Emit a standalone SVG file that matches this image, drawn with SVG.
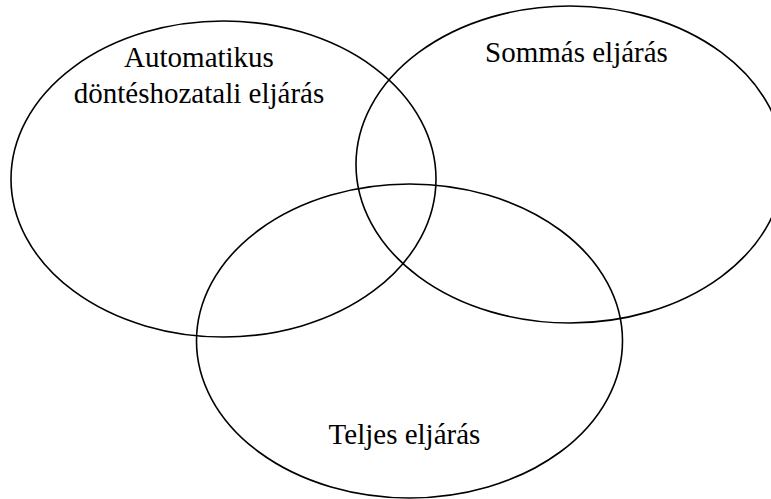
<svg xmlns="http://www.w3.org/2000/svg" width="771" height="499" viewBox="0 0 771 499">
<style>
.c{fill:none;stroke:#000;stroke-width:1.6}
.t{font-family:"Liberation Serif","Times New Roman",serif;font-size:29px;fill:#000;text-anchor:middle}
</style>
<rect width="771" height="499" fill="#fff"/>
<g id="node-automatikus">
<ellipse class="c" cx="223.5" cy="179" rx="212.5" ry="158"/>
<text class="t" x="199" y="67">Automatikus</text>
<text class="t" x="199" y="103">döntéshozatali eljárás</text>
</g>
<g id="node-sommas">
<ellipse class="c" cx="570" cy="164.5" rx="214" ry="158.5"/>
<text class="t" x="576.5" y="62">Sommás eljárás</text>
</g>
<g id="node-teljes">
<ellipse class="c" cx="409.5" cy="341" rx="213" ry="157"/>
<text class="t" x="404.5" y="444">Teljes eljárás</text>
</g>
<g id="connectors"/>
</svg>
